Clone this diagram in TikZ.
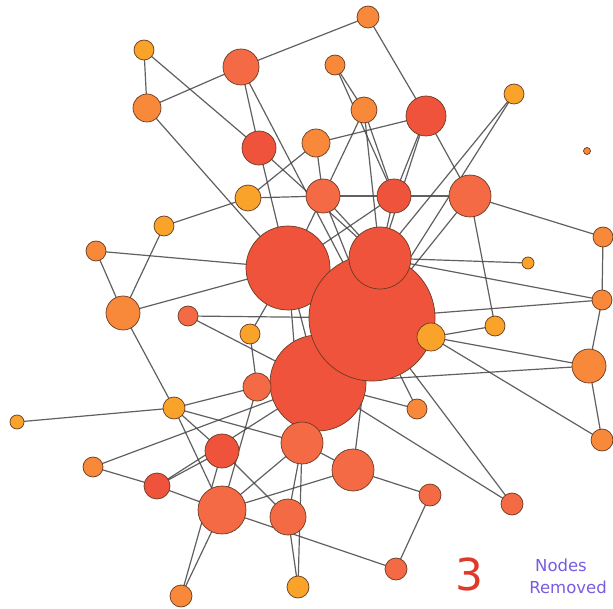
\documentclass[tikz,border=0pt]{standalone}
\usepackage{fontspec}
\newfontfamily\labelfont{DejaVu Sans}
\usetikzlibrary{backgrounds}
\pgfdeclarelayer{paper}
\pgfsetlayers{paper,background,main}
\definecolor{fy}{HTML}{F9A32B}
\definecolor{fo}{HTML}{F8893A}
\definecolor{fr}{HTML}{F46A45}
\definecolor{fd}{HTML}{F0533C}
\definecolor{nbord}{HTML}{6A3A22}
\definecolor{edgec}{HTML}{454545}
\definecolor{numred}{HTML}{E0382A}
\definecolor{txtpurple}{HTML}{7A5CE0}
\tikzset{
  nd/.style={circle, inner sep=0pt, draw=nbord, line width=0.7pt},
  link/.style={draw=edgec, line width=1.2pt, opacity=0.85},
  caption/.style={text=txtpurple, font=\labelfont\fontsize{16.5}{20}\selectfont, inner sep=0pt},
}
\newcommand{\vx}[5]{\node[nd, fill=#2, minimum size=#3*2pt] (#1) at (#4,#5) {};}
\begin{document}
\begin{tikzpicture}[x=1pt, y=-1pt]
\useasboundingbox (0,0) rectangle (613,609);
\begin{pgfonlayer}{paper}
\fill[white] (0,0) rectangle (613,609);
\end{pgfonlayer}

% hubs, back to front
\vx{R}{fd}{42}{288}{268}
\vx{AD}{fd}{48}{318}{383}
\vx{T}{fd}{63}{372}{318}
\vx{S}{fd}{31}{380}{258}

% remaining vertices
\vx{A}{fy}{10}{144}{50}
\vx{B}{fr}{18}{241}{67}
\vx{C}{fo}{14}{147}{108}
\vx{D}{fo}{11}{368}{17}
\vx{E}{fo}{10}{335}{65}
\vx{F}{fo}{13}{364}{110}
\vx{G}{fd}{20}{426}{116}
\vx{H}{fy}{10}{514}{94}
\vx{I}{fd}{17}{259}{148}
\vx{J}{fo}{14}{316}{143}
\vx{K}{fy}{13}{248}{198}
\vx{L}{fr}{17}{323}{196}
\vx{M}{fd}{17}{394}{196}
\vx{N}{fr}{21}{470}{196}
\vx{O}{fo}{3.5}{587}{151}
\vx{P}{fy}{10}{164}{226}
\vx{Q}{fo}{10}{96}{251}
\vx{U}{fy}{6}{528}{263}
\vx{V}{fo}{10}{603}{237}
\vx{W}{fo}{17}{123}{313}
\vx{X}{fr}{10}{188}{316}
\vx{Y}{fy}{10}{250}{334}
\vx{Z}{fy}{14}{431}{337}
\vx{AA}{fy}{10}{495}{326}
\vx{AB}{fo}{10}{602}{300}
\vx{AC}{fo}{17}{589}{366}
\vx{AE}{fr}{14}{257}{387}
\vx{AF}{fy}{11}{174}{408}
\vx{AG}{fy}{7}{17}{422}
\vx{AH}{fo}{10}{417}{409}
\vx{AI}{fo}{11}{602}{440}
\vx{AJ}{fd}{17}{222}{451}
\vx{AK}{fr}{21}{302}{443}
\vx{AL}{fo}{10}{93}{467}
\vx{AM}{fd}{13}{157}{486}
\vx{AN}{fr}{21}{353}{470}
\vx{AO}{fr}{11}{430}{495}
\vx{AP}{fr}{11}{512}{504}
\vx{AQ}{fr}{24}{222}{510}
\vx{AR}{fr}{18}{288}{517}
\vx{AS}{fo}{11}{181}{596}
\vx{AT}{fy}{11}{298}{587}
\vx{AU}{fr}{11}{396}{569}

% connections, kept behind the vertices
\begin{scope}[on background layer]
\foreach \p/\q in {
  A/C, A/I, C/B, C/R, B/D, B/I, B/T, D/G, E/F, E/M, F/L, F/M, F/S,
  J/G, J/K, J/L, G/M, G/S, G/N, H/S, H/T, L/M, M/N, N/V, N/T, N/AA,
  S/U, S/AB, V/AB, T/AB, AB/AC, AC/AI, Z/AA, Z/AC, Z/AI, T/Z,
  AD/AC, AD/AH, T/AH, AD/AP, T/AP, T/AN, AK/AN, AN/AO, AO/AU,
  AQ/AU, AQ/AN, AQ/AM, AM/AL, AL/AD, AM/AJ, AM/AD, AQ/AS, AJ/AS,
  AF/AG, AF/W, AF/AE, AF/AQ, AF/AK, AF/AJ, AJ/AR, AR/AK, AK/AT,
  AR/AT, AQ/AK, AQ/AE, W/R, P/W, Q/W, Q/R, P/K, K/L, X/T, X/AD,
  Y/R, Y/AE, I/R, I/S, L/R, L/T, M/R, M/S, L/S, R/AK, AE/AD,
  R/T, S/T, R/AD, AD/AK}
  \draw[link] (\p.center) -- (\q.center);
\end{scope}

% caption
\node[text=numred, font=\labelfont\fontsize{44}{44}\selectfont, inner sep=0pt] (count) at (469,574) {3};
\node[caption] (capa) at (561,565) {Nodes};
\node[caption] (capb) at (568,587) {Removed};
\end{tikzpicture}
\end{document}
